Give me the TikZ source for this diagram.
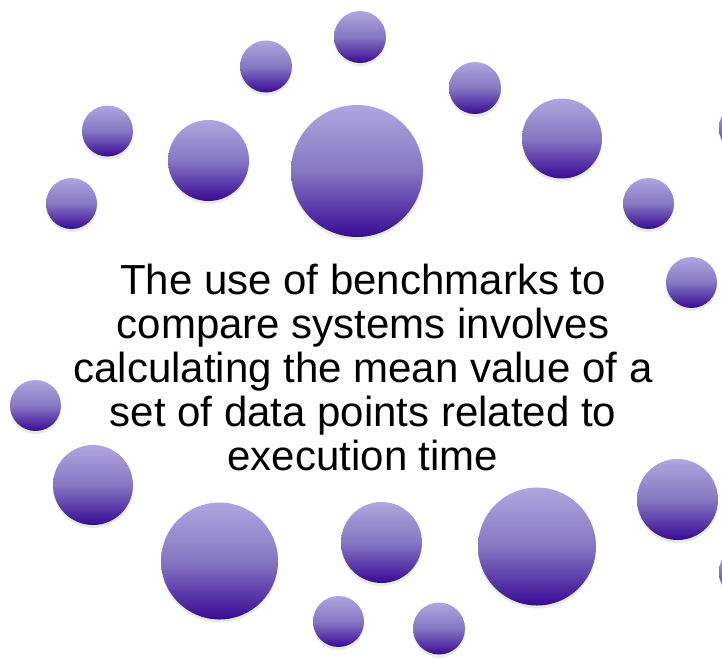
\documentclass[tikz,border=0pt]{standalone}
\usepackage{fontspec}
\setmainfont{Liberation Sans}
\usetikzlibrary{shadows}

\definecolor{bubbletop}{RGB}{176,165,222}
\definecolor{bubblemid}{RGB}{134,119,194}
\definecolor{bubblebot}{RGB}{56,10,150}

\begin{document}
\begin{tikzpicture}[x = 1pt, y = -1pt]
  % styles
  \tikzstyle{bubble} = [circle, inner sep = 0pt, draw = none,
    top color = bubbletop, bottom color = bubblebot, middle color = bubblemid,
    drop shadow = {shadow xshift = 0pt, shadow yshift = -3pt, opacity = 0.18}]
  \tikzstyle{caption} = [align = center, font = \fontsize{42}{44}\selectfont]

  % canvas
  \useasboundingbox (0, 0) rectangle (722, 657);
  \clip (0, 0) rectangle (722, 657);

  % bubbles round the text
  \foreach \x/\y/\r [count = \i] in {
      360/37/26, 266/66.5/26, 475/88/26, 107.5/131/25.5, 208.5/160.5/40.5,
      357/171/66, 562/138.5/40, 71.5/203.5/25.5, 648.5/203.5/25.5,
      691.5/282.5/25.5, 35.5/405.5/25.5, 93/485/40, 219.5/561/58.5,
      381.5/542.5/40.5, 537/546.5/59, 677.5/499.5/40.5, 338.5/621.5/25.5,
      439/628.5/26, 746/128/27, 746/572/27}
    \node[bubble, minimum size = \r*2pt] (b\i) at (\x, \y) {};

  % statement
  \node[caption, anchor = base] (claim) at (363, 470)
    {The use of benchmarks to\\ compare systems involves\\
     calculating the mean value of a\\ set of data points related to\\
     execution time};

\end{tikzpicture}
\end{document}
